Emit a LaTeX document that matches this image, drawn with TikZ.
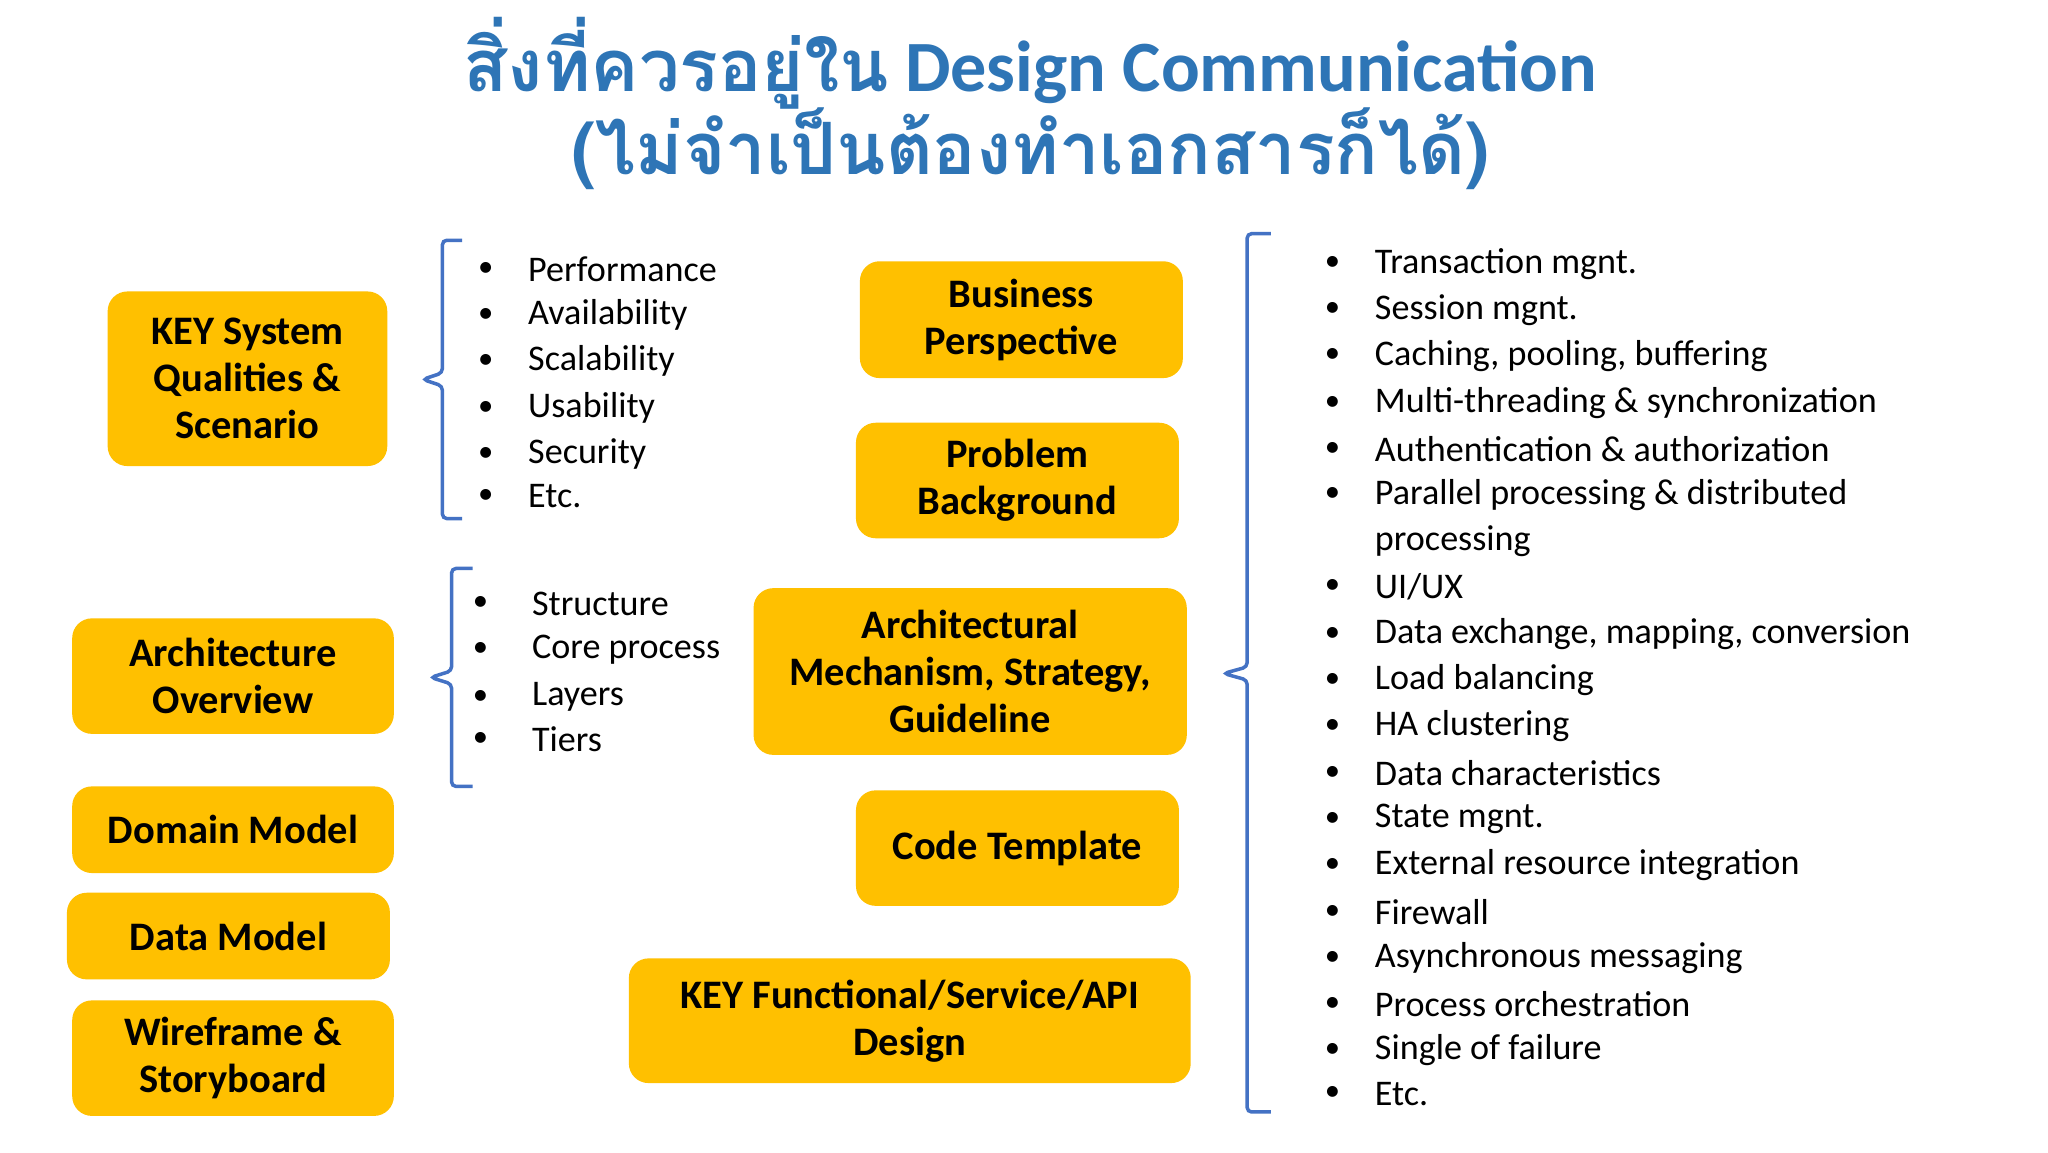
\documentclass[tikz,border=0pt]{standalone}
\usepackage{fontspec}
\setmainfont{Carlito}
\newfontfamily\thai[Script=Thai]{Loma}
\definecolor{boxy}{HTML}{FFC000}
\definecolor{brk}{HTML}{4472C4}
\definecolor{ttl}{HTML}{2E75B6}
\begin{document}
\begin{tikzpicture}[x=0.6pt,y=-0.6pt,
  ybox/.style={fill=boxy,rounded corners=9pt,align=center,font=\fontsize{18.5}{21.5}\selectfont\bfseries,inner sep=0pt},
  itm/.style={anchor=west,font=\fontsize{16.5}{20}\selectfont,inner sep=0pt},
  bul/.style={anchor=center,font=\fontsize{14}{16}\selectfont,inner sep=0pt},
  brace/.style={draw=brk,line width=1.6pt,rounded corners=2pt}]
\useasboundingbox (0,0) rectangle (1560,877.5);
\fill[white] (0,0) rectangle (1560,877.5);
% title
\node[font=\fontsize{33}{38}\selectfont\bfseries,text=ttl,align=center] (t1) at (785,48) {{\thai สิ่งที่ควรอยู่ใน} Design Communication};
\node[font=\fontsize{33}{38}\selectfont\bfseries,text=ttl] (t2) at (785,113) {{\thai (ไม่จำเป็นต้องทำเอกสารก็ได้)}};
% boxes
\newcommand\ybx[6]{\node[ybox,minimum width={(#4-#2)*0.6pt},minimum height={(#5-#3)*0.6pt}] (#1) at ({(#2+#4)/2},{(#3+#5)/2}) {#6};}
\ybx{ksq}{82}{222}{295}{355}{KEY System\\Qualities \&\\Scenario}
\ybx{ao}{55}{471}{300}{559}{Architecture\\Overview}
\ybx{dm}{55}{599}{300}{665}{Domain Model}
\ybx{dam}{51}{680}{297}{746}{Data Model}
\ybx{ws}{55}{762}{300}{850}{Wireframe \&\\Storyboard}
\ybx{bp}{655}{199}{901}{288}{Business\\Perspective}
\ybx{pb}{652}{322}{898}{410}{Problem\\Background}
\ybx{am}{574}{448}{904}{575}{Architectural\\Mechanism, Strategy,\\Guideline}
\ybx{ct}{652}{602}{898}{690}{Code Template}
\ybx{kf}{479}{730}{907}{825}{KEY Functional/Service/API\\Design}
% braces
\draw[brace] (352,183) -- (337,183) -- (337,284) -- (322,289) -- (337,294) -- (337,395) -- (352,395);
\draw[brace] (360,433) -- (344,433) -- (344,511) -- (328,516) -- (344,521) -- (344,599) -- (360,599);
\draw[brace] (968,178) -- (950,178) -- (950,508) -- (932,513) -- (950,518) -- (950,847) -- (968,847);
% list 1
\foreach \t/\y in {Performance/205,Availability/240,Scalability/275,Usability/311,Security/346,Etc./378}{
  \node[bul] at (370,\y) {•}; \node[itm] at (402,\y) {\t};}
% list 2
\foreach \t/\y in {Structure/460,Core process/495,Layers/531,Tiers/563}{
  \node[bul] at (366,\y) {•}; \node[itm] at (405,\y) {\t};}
% list 3
\foreach \t/\y in {Transaction mgnt./201,Session mgnt./236,{Caching, pooling, buffering}/271,Multi-threading \& synchronization/307,Authentication \& authorization/342,Parallel processing \& distributed/377,{UI/UX}/447,{Data exchange, mapping, conversion}/483,Load balancing/518,HA clustering/553,Data characteristics/589,State mgnt./624,External resource integration/659,Firewall/695,Asynchronous messaging/730,Process orchestration/765,Single of failure/800,Etc./833}{
  \node[bul] at (1015,\y) {•}; \node[itm] at (1047,\y) {\t};}
\node[itm] at (1047,412) {processing};
\end{tikzpicture}
\end{document}
